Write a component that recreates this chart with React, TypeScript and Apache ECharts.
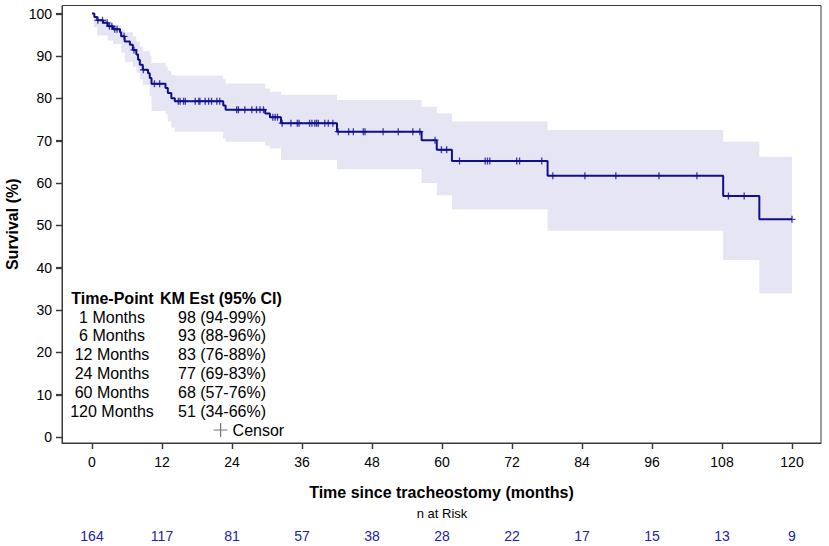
import React, { useEffect, useRef } from "react";
import * as echarts from "echarts";

// ---- data ----
const xTicks = [0, 12, 24, 36, 48, 60, 72, 84, 96, 108, 120];
const yTicks = [0, 10, 20, 30, 40, 50, 60, 70, 80, 90, 100];
const nAtRisk = [164, 117, 81, 57, 38, 28, 22, 17, 15, 13, 9];

// Kaplan-Meier step points (time in months, survival %)
const kmTimes = [0, 0.4, 0.9, 1.9, 2.7, 3.6, 4.8, 5.0, 5.6, 6.5, 7.0, 7.6, 7.9, 8.2, 8.7, 9.6, 9.9, 10.2, 12.6, 13.0, 13.6, 14.2, 22.5, 22.9, 29.7, 30.5, 32.4, 42.0, 56.5, 59.1, 61.7, 78.1, 108.2, 114.4, 120];
const kmSurv = [100, 99.2, 98.4, 97.8, 97.0, 96.3, 95.6, 94.6, 93.4, 92.6, 91.4, 90.3, 89.1, 87.9, 86.7, 85.9, 84.8, 83.4, 82.4, 81.2, 80.0, 79.3, 78.3, 77.3, 76.4, 75.5, 74.1, 72.1, 70.1, 67.8, 65.2, 61.7, 56.9, 51.4, 51.4];

// censored observation times
const censorTimes = [1.0, 1.8, 2.6, 3.0, 3.4, 3.9, 4.3, 5.5, 7.2, 8.8, 10.7, 11.6, 14.8, 15.1, 15.7, 16.0, 17.7, 18.3, 18.5, 19.4, 20.0, 20.5, 21.4, 21.9, 24.8, 25.1, 26.2, 27.4, 28.2, 28.8, 29.4, 31.0, 31.4, 31.8, 32.6, 34.1, 35.2, 35.5, 37.3, 37.7, 38.2, 38.5, 38.8, 39.9, 40.5, 41.3, 42.2, 44.0, 44.8, 46.5, 46.8, 49.9, 52.5, 55.0, 56.2, 58.8, 59.9, 60.8, 63.0, 67.4, 67.8, 68.2, 72.8, 73.3, 77.1, 79.0, 84.5, 89.8, 97.2, 103.7, 109.1, 111.8, 120];

// 95% CI step band (start time of each step, upper, lower)
const ciTimes = [0.3, 0.9, 2.7, 3.6, 5.0, 5.6, 7.0, 7.6, 8.2, 8.7, 9.9, 10.2, 12.6, 13.0, 13.6, 14.2, 22.5, 22.9, 29.7, 30.5, 32.4, 42.0, 56.5, 59.1, 61.7, 78.1, 108.2, 114.4];
const ciUpper = [99.4, 98.8, 97.6, 97.2, 96.2, 95.6, 94.6, 93.4, 92.2, 91.1, 90.0, 88.3, 87.5, 86.5, 85.5, 85.3, 84.5, 83.5, 82.3, 81.5, 80.8, 79.6, 78.0, 76.4, 74.5, 72.5, 69.7, 66.2];
const ciLower = [96.8, 94.8, 93.6, 92.8, 90.8, 88.6, 87.5, 86.0, 84.5, 83.2, 80.5, 77.0, 76.2, 74.5, 73.0, 72.1, 70.5, 69.7, 68.8, 68.1, 65.4, 63.2, 60.0, 57.1, 53.7, 48.7, 41.8, 33.9];
const ciEnd = 120;

// summary table
const tableHeader = ["Time-Point", "KM Est (95% CI)"];
const tablePoints = ["1 Months", "6 Months", "12 Months", "24 Months", "60 Months", "120 Months"];
const tableEst = ["98 (94-99%)", "93 (88-96%)", "83 (76-88%)", "77 (69-83%)", "68 (57-76%)", "51 (34-66%)"];

// ---- styles ----
const FONT = "'Liberation Sans', Arial, Helvetica, sans-serif";
const NAVY = "#10108c";
const BAND = "#e5e5f4";
const RISK = "#2222a8";
const FRAME = "#3a3a3a";
const TICK_LEN = 6;

// axis ranges include the padding between the frame and the 0/120, 0/100 ticks
const X_MIN = -5.143;
const X_MAX = 124.97;
const Y_MIN = -1.417;
const Y_MAX = 101.89;

function survAt(t: number): number {
  let s = kmSurv[0];
  for (let i = 0; i < kmTimes.length; i++) {
    if (kmTimes[i] <= t) s = kmSurv[i];
  }
  return s;
}

export default function App() {
  const ref = useRef<HTMLDivElement>(null);

  useEffect(() => {
    document.body.style.margin = "0";
    if (!ref.current) return;
    const chart = echarts.init(ref.current, null, { renderer: "svg" });

    const tableGraphics: any[] = [];
    tableGraphics.push({
      type: "text",
      x: 112.5,
      y: 298,
      style: { text: tableHeader[0], font: `bold 16px ${FONT}`, fill: "#000", align: "center", verticalAlign: "middle" },
    });
    tableGraphics.push({
      type: "text",
      x: 160,
      y: 298,
      style: { text: tableHeader[1], font: `bold 16px ${FONT}`, fill: "#000", align: "left", verticalAlign: "middle" },
    });
    tablePoints.forEach((p, i) => {
      const y = 317 + i * 18.8;
      tableGraphics.push({
        type: "text",
        x: 112,
        y,
        style: { text: p, font: `16px ${FONT}`, fill: "#000", align: "center", verticalAlign: "middle" },
      });
      tableGraphics.push({
        type: "text",
        x: 178,
        y,
        style: { text: tableEst[i], font: `16px ${FONT}`, fill: "#000", align: "left", verticalAlign: "middle" },
      });
    });

    const tickStyle = { show: true, inside: false, length: TICK_LEN, lineStyle: { color: FRAME, width: 1.2 } };

    const option: any = {
      animation: false,
      textStyle: { fontFamily: FONT },
      grid: {
        left: 62,
        right: 8,
        top: 5.5,
        bottom: 103,
        containLabel: false,
        outerBoundsMode: "none",
        show: true,
        borderColor: FRAME,
        borderWidth: 1,
        backgroundColor: "transparent",
      },
      legend: {
        show: true,
        left: 213,
        top: 422,
        padding: 0,
        selectedMode: false,
        itemWidth: 14,
        itemHeight: 14,
        textStyle: { fontSize: 16, color: "#000", fontFamily: FONT },
        data: [
          {
            name: "Censor",
            icon: "path://M0,7H14M7,0V14",
            itemStyle: { color: "transparent", borderColor: "#555", borderWidth: 1.2 },
          },
        ],
      },
      xAxis: [
        {
          type: "value",
          min: X_MIN,
          max: X_MAX,
          axisLine: { show: true, onZero: false, lineStyle: { color: FRAME, width: 1 } },
          axisTick: { ...tickStyle, customValues: xTicks },
          axisLabel: { fontSize: 14, color: "#000", margin: 12, fontFamily: FONT, customValues: xTicks },
          splitLine: { show: false },
          name: "Time since tracheostomy (months)",
          nameLocation: "middle",
          nameGap: 41,
          nameMoveOverlap: false,
          nameTextStyle: { fontSize: 16, fontWeight: "bold", color: "#000", fontFamily: FONT },
        },
        {
          type: "value",
          position: "bottom",
          min: X_MIN,
          max: X_MAX,
          offset: 74,
          axisLine: { show: false, onZero: false },
          axisTick: { show: false },
          splitLine: { show: false },
          axisLabel: {
            fontSize: 14,
            color: RISK,
            margin: 12,
            fontFamily: FONT,
            customValues: xTicks,
            formatter: (v: number) => {
              const idx = xTicks.indexOf(v);
              return idx >= 0 ? String(nAtRisk[idx]) : "";
            },
          },
        },
      ],
      yAxis: {
        type: "value",
        min: Y_MIN,
        max: Y_MAX,
        axisLine: { show: true, onZero: false, lineStyle: { color: FRAME, width: 1 } },
        axisTick: { ...tickStyle, customValues: yTicks },
        axisLabel: { fontSize: 14, color: "#000", margin: 10, fontFamily: FONT, customValues: yTicks },
        splitLine: { show: false },
        name: "Survival (%)",
        nameLocation: "middle",
        nameRotate: 90,
        nameGap: 42,
        nameMoveOverlap: false,
        nameTextStyle: { fontSize: 16, fontWeight: "bold", color: "#000", fontFamily: FONT },
      },
      graphic: [
        {
          type: "text",
          x: 442,
          y: 513,
          style: { text: "n at Risk", font: `13px ${FONT}`, fill: "#000", align: "center", verticalAlign: "middle" },
        },
        ...tableGraphics,
      ],
      series: [
        {
          type: "custom",
          name: "95% CI",
          silent: true,
          clip: false,
          z: 1,
          data: [[0, 0]],
          renderItem: (_params: any, api: any) => {
            const pts: number[][] = [];
            for (let i = 0; i < ciTimes.length; i++) {
              const t0 = ciTimes[i];
              const t1 = i + 1 < ciTimes.length ? ciTimes[i + 1] : ciEnd;
              pts.push(api.coord([t0, ciUpper[i]]));
              pts.push(api.coord([t1, ciUpper[i]]));
            }
            for (let i = ciTimes.length - 1; i >= 0; i--) {
              const t0 = ciTimes[i];
              const t1 = i + 1 < ciTimes.length ? ciTimes[i + 1] : ciEnd;
              pts.push(api.coord([t1, ciLower[i]]));
              pts.push(api.coord([t0, ciLower[i]]));
            }
            return { type: "polygon", shape: { points: pts }, style: { fill: BAND } };
          },
        },
        {
          // outward tick marks on the frame, placed through the axes' scales
          type: "custom",
          name: "ticks",
          silent: true,
          clip: false,
          z: 5,
          data: [[0, 0]],
          renderItem: (_params: any, api: any) => {
            const children: any[] = [];
            xTicks.forEach((t) => {
              const p = api.coord([t, Y_MIN]);
              const x = Math.round(p[0]) + 0.5;
              children.push({
                type: "line",
                shape: { x1: x, y1: p[1], x2: x, y2: p[1] + TICK_LEN },
                style: { stroke: FRAME, lineWidth: 1.3 },
              });
            });
            yTicks.forEach((v) => {
              const p = api.coord([X_MIN, v]);
              const y = Math.round(p[1]) + 0.5;
              children.push({
                type: "line",
                shape: { x1: p[0] - TICK_LEN, y1: y, x2: p[0], y2: y },
                style: { stroke: FRAME, lineWidth: 1.3 },
              });
            });
            return { type: "group", children };
          },
        },
        {
          type: "line",
          name: "KM",
          step: "end",
          symbol: "none",
          z: 3,
          lineStyle: { color: NAVY, width: 2 },
          data: kmTimes.map((t, i) => [t, kmSurv[i]]),
        },
        {
          type: "scatter",
          name: "Censor",
          z: 4,
          symbol: "path://M-5,0H5M0,-5V5",
          symbolSize: 7,
          itemStyle: { color: "transparent", borderColor: NAVY, borderWidth: 1.3 },
          data: censorTimes.map((t) => [t, survAt(t)]),
        },
      ],
    };

    chart.setOption(option);
    return () => {
      chart.dispose();
    };
  }, []);

  return <div ref={ref} style={{ width: 829, height: 546 }} />;
}
